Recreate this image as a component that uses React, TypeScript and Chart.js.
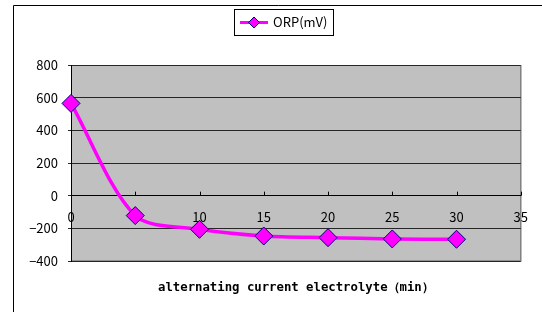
import { useEffect, useRef } from "react";
import { Chart, registerables } from "chart.js";

Chart.register(...registerables);

const times = [0, 5, 10, 15, 20, 25, 30];
const orp = [565, -122, -206, -247, -257, -265, -267];
const seriesLabel = "ORP(mV)";
const xTitle = "alternating current electrolyte（min）";
const xMin = 0;
const xMax = 35;
const xStep = 5;
const yMin = -400;
const yMax = 800;
const yStep = 200;

const LABEL_FONT = "'Noto Sans CJK JP', 'Liberation Sans', sans-serif";
const TITLE_FONT = "'DejaVu Sans Mono', monospace";
const LINE_COLOR = "#FF00FF";
const MARKER_BORDER = "#000080";

const framePlugin = {
  id: "frame",
  beforeDraw(chart: any) {
    const { ctx, chartArea, width, height } = chart;
    ctx.save();
    ctx.fillStyle = "#ffffff";
    ctx.fillRect(0, 0, width, height);
    ctx.strokeStyle = "#000000";
    ctx.lineWidth = 1;
    ctx.beginPath();
    ctx.moveTo(13.5, height + 2);
    ctx.lineTo(13.5, 5.5);
    ctx.lineTo(width + 2, 5.5);
    ctx.stroke();
    ctx.fillStyle = "#C0C0C0";
    ctx.fillRect(chartArea.left, chartArea.top, chartArea.right - chartArea.left, chartArea.bottom - chartArea.top);
    ctx.strokeStyle = "#808080";
    ctx.lineWidth = 1.5;
    ctx.beginPath();
    ctx.moveTo(chartArea.left, chartArea.bottom);
    ctx.lineTo(chartArea.right, chartArea.bottom);
    ctx.lineTo(chartArea.right, chartArea.top);
    ctx.stroke();
    ctx.restore();
  },
  afterDraw(chart: any) {
    const { ctx, chartArea } = chart;
    const xs = chart.scales.x;
    const ys = chart.scales.y;
    ctx.save();
    // upward x tick marks
    const y0 = ys.getPixelForValue(0);
    ctx.strokeStyle = "#000000";
    ctx.lineWidth = 1;
    ctx.beginPath();
    for (let v = xMin; v <= xMax; v += xStep) {
      const px = Math.round(xs.getPixelForValue(v)) + 0.5;
      ctx.moveTo(px, y0);
      ctx.lineTo(px, y0 - 4);
    }
    ctx.stroke();

    // legend box
    const bx = 234.5, by = 9.5, bw = 99, bh = 26;
    ctx.fillStyle = "#ffffff";
    ctx.fillRect(bx, by, bw, bh);
    ctx.strokeStyle = "#000000";
    ctx.lineWidth = 1;
    ctx.strokeRect(bx, by, bw, bh);
    const ly = by + bh / 2;
    ctx.strokeStyle = LINE_COLOR;
    ctx.lineWidth = 3;
    ctx.beginPath();
    ctx.moveTo(240, ly);
    ctx.lineTo(268, ly);
    ctx.stroke();
    const r = 5.5;
    ctx.beginPath();
    ctx.moveTo(254, ly - r);
    ctx.lineTo(254 + r, ly);
    ctx.lineTo(254, ly + r);
    ctx.lineTo(254 - r, ly);
    ctx.closePath();
    ctx.fillStyle = LINE_COLOR;
    ctx.fill();
    ctx.strokeStyle = MARKER_BORDER;
    ctx.lineWidth = 1;
    ctx.stroke();
    ctx.fillStyle = "#000000";
    ctx.font = `13px ${LABEL_FONT}`;
    ctx.textAlign = "left";
    ctx.textBaseline = "middle";
    ctx.fillText(chart.data.datasets[0].label, 273, ly);

    // x axis title
    ctx.font = `bold 12.3px ${TITLE_FONT}`;
    ctx.textAlign = "center";
    ctx.textBaseline = "middle";
    ctx.fillText(xTitle, (chartArea.left + chartArea.right) / 2, 288);
    ctx.restore();
  },
};

export default function App() {
  const ref = useRef<HTMLCanvasElement | null>(null);
  useEffect(() => {
    if (!ref.current) return;
    const chart = new Chart(ref.current, {
      type: "line",
      data: {
        datasets: [
          {
            label: seriesLabel,
            data: times.map((t, i) => ({ x: t, y: orp[i] })),
            borderColor: LINE_COLOR,
            backgroundColor: LINE_COLOR,
            borderWidth: 3.5,
            tension: 0.3,
            pointStyle: "rectRot",
            pointRadius: 9,
            pointHoverRadius: 9,
            pointBackgroundColor: LINE_COLOR,
            pointBorderColor: MARKER_BORDER,
            pointBorderWidth: 1,
            clip: false as any,
          },
        ],
      },
      options: {
        animation: false,
        responsive: true,
        maintainAspectRatio: false,
        layout: { padding: { left: 0, right: 21, top: 65, bottom: 51 } },
        plugins: {
          legend: { display: false },
          tooltip: { enabled: false },
          title: { display: false },
        },
        scales: {
          x: {
            type: "linear",
            min: xMin,
            max: xMax,
            position: { y: 0 } as any,
            z: 1,
            border: { display: true, color: "#000000", width: 1 },
            grid: { display: true, drawOnChartArea: false, drawTicks: false },
            ticks: {
              stepSize: xStep,
              padding: 14,
              color: "#000000",
              font: { family: LABEL_FONT, size: 13 },
              maxRotation: 0,
            },
          },
          y: {
            type: "linear",
            min: yMin,
            max: yMax,
            afterFit(scale: any) {
              scale.width = 71;
            },
            border: { display: true, color: "#000000", width: 1 },
            grid: { color: "#262626", lineWidth: 1, tickLength: 3, drawTicks: true },
            ticks: {
              stepSize: yStep,
              padding: 10,
              color: "#000000",
              font: { family: LABEL_FONT, size: 13 },
              callback: (v: any) => String(v).replace("-", "−"),
            },
          },
        },
      },
      plugins: [framePlugin],
    });
    return () => chart.destroy();
  }, []);
  return (
    <div style={{ position: "fixed", left: 0, top: 0, width: 542, height: 312 }}>
      <canvas ref={ref} />
    </div>
  );
}
